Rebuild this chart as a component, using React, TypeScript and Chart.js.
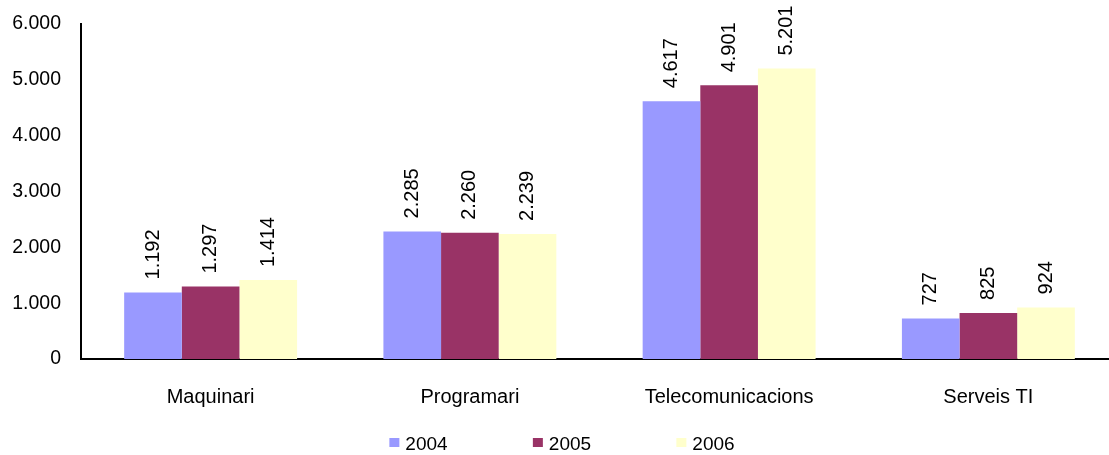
import React, { useEffect, useRef } from "react";
import { Chart, registerables } from "chart.js";

Chart.register(...registerables);

const categories = ["Maquinari", "Programari", "Telecomunicacions", "Serveis TI"];
const years = ["2004", "2005", "2006"];
const values2004 = [1192, 2285, 4617, 727];
const values2005 = [1297, 2260, 4901, 825];
const values2006 = [1414, 2239, 5201, 924];
const colors = ["#9999FF", "#993366", "#FFFFCC"];
const yMax = 6000;
const yStep = 1000;

const FONT = "'Liberation Sans', Arial, Helvetica, sans-serif";

const fmt = (n: number) => String(n).replace(/\B(?=(\d{3})+(?!\d))/g, ".");

const valueLabels = {
  id: "valueLabels",
  afterDatasetsDraw(chart: any) {
    const ctx = chart.ctx;
    chart.data.datasets.forEach((ds: any, i: number) => {
      const meta = chart.getDatasetMeta(i);
      meta.data.forEach((bar: any, j: number) => {
        ctx.save();
        ctx.translate(bar.x, bar.y - 13);
        ctx.rotate(-Math.PI / 2);
        ctx.font = `20px ${FONT}`;
        ctx.fillStyle = "#000";
        ctx.textAlign = "left";
        ctx.textBaseline = "middle";
        ctx.fillText(fmt(ds.data[j]), 0, 0);
        ctx.restore();
      });
    });
  },
};

const customLegend = {
  id: "customLegend",
  afterDraw(chart: any) {
    const ctx = chart.ctx;
    ctx.save();
    ctx.font = `19px ${FONT}`;
    const spacing = 143.5;
    const box = 10;
    const gap = 6;
    const lastW = box + gap + ctx.measureText(years[years.length - 1]).width;
    const total = spacing * (years.length - 1) + lastW;
    let x = chart.width / 2 - total / 2 + 3;
    const cy = 443;
    years.forEach((y, i) => {
      ctx.fillStyle = colors[i];
      ctx.fillRect(x, cy - 5, box, 9);
      ctx.fillStyle = "#000";
      ctx.textAlign = "left";
      ctx.textBaseline = "middle";
      ctx.fillText(y, x + box + gap, cy + 2);
      x += spacing;
    });
    ctx.restore();
  },
};

export default function App() {
  const ref = useRef<HTMLCanvasElement | null>(null);
  useEffect(() => {
    if (!ref.current) return;
    const datasets = [values2004, values2005, values2006].map((d, i) => ({
      label: years[i],
      data: d,
      backgroundColor: colors[i],
      borderWidth: 0,
      categoryPercentage: 0.667,
      barPercentage: 1.0,
    }));
    const chart = new Chart(ref.current, {
      type: "bar",
      data: { labels: categories, datasets },
      options: {
        animation: false,
        responsive: false,
        maintainAspectRatio: false,
        layout: { padding: { top: 24, left: 0, right: 0, bottom: 0 } },
        plugins: {
          legend: { display: false },
          tooltip: { enabled: false },
        },
        scales: {
          x: {
            grid: { display: false, drawTicks: false },
            border: { display: true, color: "#000", width: 2 },
            ticks: {
              color: "#000",
              font: { family: FONT, size: 20 },
              padding: 26,
              maxRotation: 0,
            },
            afterFit: (s: any) => {
              s.height = 96;
            },
          },
          y: {
            min: 0,
            max: yMax,
            grid: { display: false, drawTicks: false },
            border: { display: true, color: "#000", width: 2 },
            ticks: {
              stepSize: yStep,
              color: "#000",
              font: { family: FONT, size: 19.5 },
              padding: 20,
              callback: (v: any) => fmt(Number(v)),
            },
            afterFit: (s: any) => {
              s.width = 81;
              s.paddingTop = 0;
              s.paddingBottom = 0;
            },
          },
        },
      },
      plugins: [valueLabels, customLegend],
    });
    return () => chart.destroy();
  }, []);
  return (
    <div
      style={{
        position: "fixed",
        left: 0,
        top: 0,
        width: 1109,
        height: 455,
        overflow: "hidden",
        background: "#fff",
      }}
    >
      <canvas ref={ref} width={1118} height={455} style={{ display: "block", width: 1118, height: 455 }} />
    </div>
  );
}
